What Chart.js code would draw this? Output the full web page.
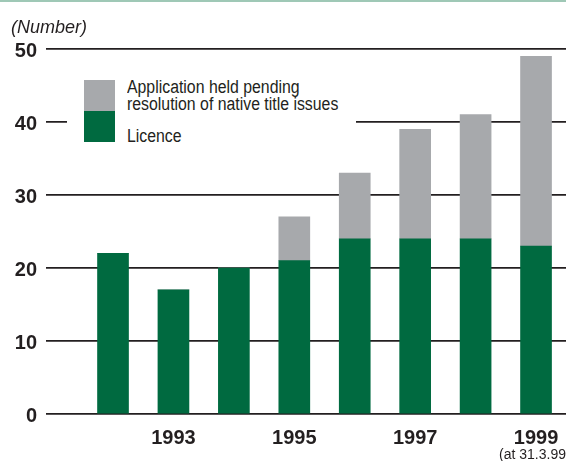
<!DOCTYPE html>
<html>
<head>
<meta charset="utf-8">
<script src="https://cdn.jsdelivr.net/npm/chart.js@4"></script>
<style>
  html, body { margin: 0; padding: 0; background: #fff; }
  #wrap { position: relative; width: 566px; height: 461px; }
  #topband { position: absolute; left: 0; top: 0; width: 566px; height: 2px; background: #9fc8b6; }
  #legend {
    position: absolute; left: 67px; top: 76px; width: 289px; height: 70px;
    background: #fff; font-family: "Liberation Sans", Arial, sans-serif;
    font-size: 18px; color: #231f20;
  }
  #legend .sw { position: absolute; left: 17px; width: 31px; height: 31px; }
  #legend .txt { position: absolute; left: 60px; line-height: 17px; white-space: nowrap;
                 transform: scaleX(0.88); transform-origin: 0 0; }
</style>
</head>
<body>
<div id="wrap">
  <canvas id="chart" width="566" height="461"></canvas>
  <div id="topband"></div>
  <div id="legend"></div>
</div>
<script>
/* ---------- DATA ---------- */
const years        = [1992, 1993, 1994, 1995, 1996, 1997, 1998, 1999];
const licence      = [22, 17, 20, 21, 24, 24, 24, 23];
const pending      = [0, 0, 0, 6, 9, 15, 17, 26];
const yearTicks    = [1993, 1995, 1997, 1999];
const seriesNames  = ['Application held pending\nresolution of native title issues', 'Licence'];
const yAxisTitle   = '(Number)';
const lastNote     = '(at 31.3.99';

const GREEN = '#006a40';
const GREY  = '#a7a9ac';
const INK   = '#231f20';
const FONT  = '"Liberation Sans", Arial, sans-serif';

/* ---------- LEGEND (html, white box over the gridline) ---------- */
const legend = document.getElementById('legend');
legend.innerHTML = `
  <div class="sw" style="top:4px;background:${GREY}"></div>
  <div class="sw" style="top:35px;background:${GREEN}"></div>
  <div class="txt" style="top:3px">${seriesNames[0].replace('\n', '<br>')}</div>
  <div class="txt" style="top:52px">${seriesNames[1]}</div>
`;

/* ---------- EXTRA TEXT ---------- */
const extraText = {
  id: 'extraText',
  afterDraw(chart) {
    const { ctx, scales } = chart;
    ctx.save();
    ctx.fillStyle = INK;
    ctx.textAlign = 'left';
    ctx.textBaseline = 'alphabetic';
    // axis unit
    ctx.font = 'italic 18px ' + FONT;
    ctx.fillText(yAxisTitle, 11, 33);
    // note under the last year
    ctx.font = '14px ' + FONT;
    ctx.fillText(lastNote, scales.x.getPixelForValue(years[years.length - 1]) - 37, 459);
    ctx.restore();
  }
};

new Chart(document.getElementById('chart'), {
  type: 'bar',
  data: {
    datasets: [
      {
        label: 'Licence',
        data: years.map((y, i) => ({ x: y, y: licence[i] })),
        backgroundColor: GREEN,
        barThickness: 31,
        stack: 's'
      },
      {
        label: 'Pending',
        data: years.map((y, i) => ({ x: y, y: pending[i] })),
        backgroundColor: GREY,
        barThickness: 31,
        stack: 's'
      }
    ]
  },
  options: {
    responsive: false,
    animation: false,
    layout: { padding: { top: 49, left: 10, right: 0, bottom: 0 } },
    plugins: { legend: { display: false }, tooltip: { enabled: false } },
    scales: {
      x: {
        type: 'linear',
        stacked: true,
        offset: false,
        min: 1990.891,
        max: 1999.496,
        grid: { display: false },
        border: { display: false },
        afterBuildTicks: scale => { scale.ticks = yearTicks.map(v => ({ value: v })); },
        afterFit: scale => { scale.height = 47; },
        ticks: {
          padding: 4,
          color: INK,
          font: { family: FONT, size: 20, weight: 'bold' },
          callback: v => String(v),
          maxRotation: 0
        }
      },
      y: {
        stacked: true,
        min: 0,
        max: 50,
        afterFit: scale => { scale.width = 36; },
        grid: { color: INK, lineWidth: 1.8, drawTicks: false },
        border: { display: false },
        ticks: {
          stepSize: 10,
          padding: 9,
          labelOffset: 2,
          color: INK,
          font: { family: FONT, size: 20, weight: 'bold' }
        }
      }
    }
  },
  plugins: [extraText]
});
</script>
</body>
</html>
